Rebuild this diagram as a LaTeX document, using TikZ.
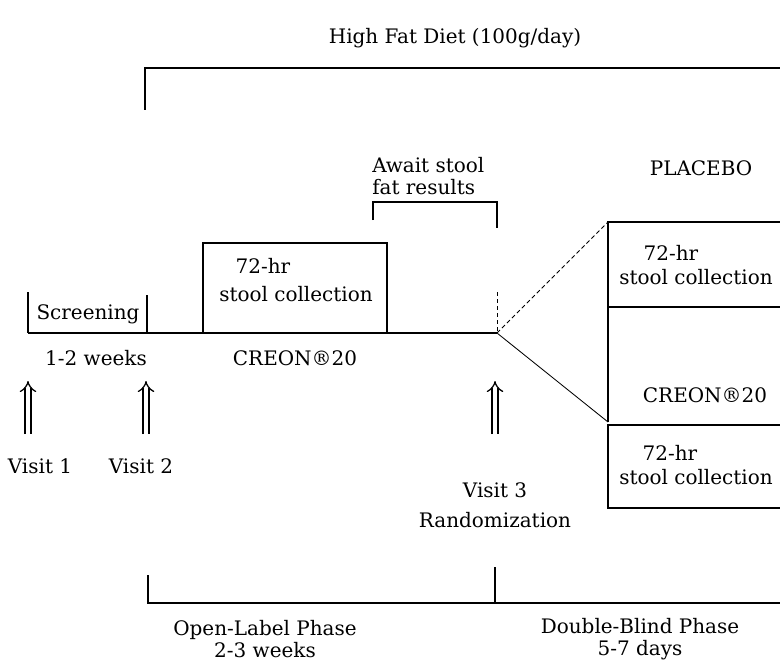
\documentclass[tikz,border=0pt]{standalone}
\usepackage{fontspec}
\setmainfont{DejaVu Serif}
\usetikzlibrary{arrows.meta, positioning}

\begin{document}
\begin{tikzpicture}[
  x=0.025cm, y=-0.025cm,
  every node/.style={font=\fontsize{14.2}{16}\selectfont},
  txt/.style={inner sep=0pt, align=center},
  line/.style={line width=0.8pt},
  axis/.style={line width=1.3pt},
  faint/.style={line width=0.6pt, densely dashed},
  visit/.style={double, double distance=3.2pt, line width=0.9pt,
                -{Implies[length=3mm]}},
]
\useasboundingbox (0,0) rectangle (780,662);

% time points on the main line
\coordinate (t1) at (28,333);
\coordinate (t2) at (147,333);
\coordinate (t3) at (497,333);

% high fat diet bracket
\node[txt] (diet) at (455,38) {High Fat Diet (100g/day)};
\draw[line] (145,110) -- (145,68) -- (780,68);

% open-label part
\draw[axis] (t1) -- (t3);
\draw[line] (28,292) -- (t1);
\draw[line] (147,295) -- (t2);
\node[txt] (scr) at (88,314) {Screening};
\node[txt] (wk) at (96,358) {1-2 weeks};

\draw[line] (203,333) |- (387,243) -- (387,333);
\node[txt] (col1a) at (263,266) {72-hr};
\node[txt] (col1b) at (296,294) {stool collection};
\node[txt] (creon1) at (295,358) {CREON\textregistered20};

\node[txt, align=left, anchor=west] (await) at (372,176) {Await stool\\fat results};
\draw[line] (373,220) -- (373,202) -- (497,202) -- (497,228);
\draw[faint] (497,292) -- (t3);

% double-blind arms
\coordinate (pl) at (608,222);
\coordinate (cr) at (608,422);
\draw[faint] (t3) -- (pl);
\draw[line, line width=0.6pt] (t3) -- (cr);

\node[txt] (placebo) at (701,168) {PLACEBO};
\draw[line] (780,222) -- (pl) -- (cr);
\draw[line] (608,307) -- (780,307);
\node[txt] (col2a) at (671,253) {72-hr};
\node[txt] (col2b) at (696,277) {stool collection};

\node[txt] (creon2) at (705,395) {CREON\textregistered20};
\draw[line] (780,425) -- (608,425) -- (608,508) -- (780,508);
\node[txt] (col3a) at (670,453) {72-hr};
\node[txt] (col3b) at (696,477) {stool collection};

% visits
\coordinate (a1) at (28,434);  \coordinate (b1) at (28,381);
\coordinate (a2) at (146,434); \coordinate (b2) at (146,381);
\coordinate (a3) at (495,434); \coordinate (b3) at (495,381);
\draw[visit] (a1) -- (b1);
\draw[visit] (a2) -- (b2);
\draw[visit] (a3) -- (b3);
\node[txt] (v1) at (40,466) {Visit 1};
\node[txt] (v2) at (141,466) {Visit 2};
\node[txt] (v3) at (495,490) {Visit 3};
\node[txt, below=3.5mm of v3.south, anchor=north] (rand) {Randomization};

% phases
\draw[line] (148,575) -- (148,603) -- (780,603);
\draw[line] (495,567) -- (495,603);
\node[txt] (open) at (265,639) {Open-Label Phase\\2-3 weeks};
\node[txt] (blind) at (640,639) {Double-Blind Phase\\5-7 days};
\end{tikzpicture}
\end{document}
